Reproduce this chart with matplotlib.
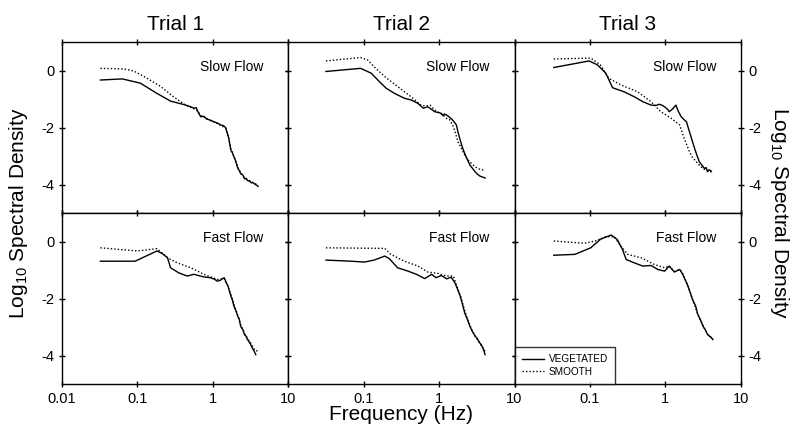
import matplotlib
matplotlib.use("Agg")
import matplotlib.pyplot as plt
import numpy as np

plt.rcParams['font.family'] = ['Liberation Sans', 'DejaVu Sans']
plt.rcParams['mathtext.default'] = 'regular'

trials = ["Trial 1", "Trial 2", "Trial 3"]
flows = ["Slow Flow", "Fast Flow"]
series_names = ["VEGETATED", "SMOOTH"]
xticks = [0.01, 0.1, 1, 10]
xtick_labels = ["0.01", "0.1", "1", "10"]
yticks = [0, -2, -4]
ytick_labels = ["0", "-2", "-4"]

# ---- Slow flow, Trial 1 ----
s1_veg_logf = [-1.49, -1.20, -0.96, -0.74, -0.56, -0.40, -0.36, -0.30, -0.25, -0.22, -0.19, -0.16, -0.12, -0.08, -0.03, 0.02, 0.06, 0.11, 0.14, 0.17, 0.19, 0.21, 0.24, 0.26, 0.28, 0.30, 0.33, 0.35, 0.37, 0.40, 0.42, 0.44, 0.46, 0.49, 0.51, 0.53, 0.56, 0.58, 0.60]
s1_veg_y = [-0.33, -0.29, -0.44, -0.80, -1.07, -1.18, -1.21, -1.26, -1.32, -1.30, -1.48, -1.62, -1.60, -1.70, -1.74, -1.80, -1.84, -1.91, -1.93, -2.00, -2.18, -2.35, -2.80, -2.88, -3.03, -3.15, -3.42, -3.50, -3.62, -3.67, -3.80, -3.78, -3.86, -3.88, -3.94, -3.92, -3.99, -4.02, -4.06]
s1_smo_logf = [-1.49, -1.18, -1.05, -0.87, -0.69, -0.52, -0.36, -0.30, -0.25, -0.20, -0.16, -0.10, -0.03, 0.05, 0.11, 0.17, 0.20, 0.24, 0.28, 0.33, 0.37, 0.42, 0.47, 0.52, 0.57, 0.60]
s1_smo_y = [0.08, 0.06, -0.01, -0.27, -0.56, -0.92, -1.21, -1.28, -1.34, -1.42, -1.58, -1.66, -1.76, -1.84, -1.93, -2.02, -2.25, -2.75, -3.00, -3.38, -3.58, -3.76, -3.84, -3.92, -3.98, -4.04]

# ---- Slow flow, Trial 2 ----
s2_veg_logf = [-1.50, -1.04, -0.90, -0.79, -0.70, -0.59, -0.46, -0.37, -0.28, -0.21, -0.15, -0.10, -0.06, -0.01, 0.03, 0.05, 0.07, 0.10, 0.13, 0.16, 0.20, 0.23, 0.25, 0.28, 0.31, 0.34, 0.38, 0.41, 0.44, 0.48, 0.51, 0.54, 0.58, 0.61]
s2_veg_y = [-0.03, 0.08, -0.09, -0.39, -0.62, -0.80, -0.97, -1.03, -1.15, -1.32, -1.27, -1.36, -1.44, -1.47, -1.50, -1.58, -1.52, -1.56, -1.62, -1.68, -1.80, -1.91, -2.15, -2.44, -2.70, -2.91, -3.15, -3.32, -3.42, -3.56, -3.64, -3.70, -3.74, -3.77]
s2_smo_logf = [-1.50, -1.04, -0.95, -0.84, -0.72, -0.55, -0.37, -0.24, -0.18, -0.12, -0.06, 0.00, 0.05, 0.10, 0.14, 0.19, 0.22, 0.25, 0.30, 0.34, 0.38, 0.43, 0.48, 0.52, 0.56, 0.61]
s2_smo_y = [0.34, 0.46, 0.38, 0.08, -0.21, -0.56, -0.92, -1.21, -1.25, -1.21, -1.38, -1.48, -1.55, -1.68, -1.72, -1.97, -2.22, -2.50, -2.75, -2.97, -3.12, -3.26, -3.38, -3.44, -3.48, -3.50]

# ---- Slow flow, Trial 3 ----
s3_veg_logf = [-1.48, -1.01, -0.90, -0.79, -0.70, -0.55, -0.41, -0.30, -0.19, -0.12, -0.08, -0.04, -0.01, 0.03, 0.05, 0.09, 0.14, 0.17, 0.21, 0.24, 0.28, 0.32, 0.36, 0.39, 0.41, 0.45, 0.48, 0.52, 0.54, 0.56, 0.58, 0.61]
s3_veg_y = [0.11, 0.34, 0.20, -0.09, -0.60, -0.74, -0.92, -1.09, -1.21, -1.22, -1.18, -1.22, -1.27, -1.36, -1.44, -1.36, -1.21, -1.42, -1.62, -1.70, -1.80, -2.15, -2.50, -2.75, -2.91, -3.20, -3.30, -3.44, -3.40, -3.55, -3.48, -3.53]
s3_smo_logf = [-1.48, -0.99, -0.86, -0.75, -0.59, -0.37, -0.19, -0.06, 0.08, 0.19, 0.25, 0.32, 0.36, 0.41, 0.45, 0.50, 0.55, 0.61]
s3_smo_y = [0.41, 0.44, 0.20, -0.27, -0.50, -0.74, -1.09, -1.44, -1.68, -1.91, -2.38, -2.85, -3.05, -3.20, -3.32, -3.44, -3.50, -3.56]

# ---- Fast flow, Trial 1 ----
f1_veg_logf = [-1.49, -1.03, -0.74, -0.67, -0.60, -0.56, -0.45, -0.34, -0.25, -0.18, -0.12, -0.03, 0.02, 0.06, 0.10, 0.13, 0.15, 0.18, 0.20, 0.24, 0.26, 0.28, 0.31, 0.33, 0.35, 0.37, 0.40, 0.42, 0.44, 0.46, 0.49, 0.52, 0.55, 0.57]
f1_veg_y = [-0.69, -0.69, -0.33, -0.42, -0.57, -0.92, -1.10, -1.21, -1.15, -1.20, -1.24, -1.27, -1.32, -1.39, -1.36, -1.30, -1.27, -1.45, -1.55, -1.92, -2.05, -2.27, -2.45, -2.62, -2.72, -2.98, -3.10, -3.27, -3.32, -3.44, -3.55, -3.72, -3.86, -3.97]
f1_smo_logf = [-1.49, -1.00, -0.74, -0.60, -0.47, -0.29, -0.12, 0.06, 0.15, 0.19, 0.24, 0.28, 0.33, 0.37, 0.42, 0.46, 0.50, 0.55, 0.58, 0.60]
f1_smo_y = [-0.22, -0.33, -0.25, -0.57, -0.75, -0.92, -1.15, -1.33, -1.30, -1.50, -1.85, -2.20, -2.58, -2.92, -3.22, -3.40, -3.55, -3.78, -3.84, -3.80]

# ---- Fast flow, Trial 2 ----
f2_veg_logf = [-1.50, -1.17, -0.99, -0.86, -0.72, -0.66, -0.55, -0.41, -0.30, -0.19, -0.10, -0.04, 0.03, 0.10, 0.16, 0.21, 0.25, 0.28, 0.31, 0.34, 0.37, 0.41, 0.44, 0.48, 0.50, 0.54, 0.56, 0.59, 0.61]
f2_veg_y = [-0.65, -0.69, -0.72, -0.65, -0.51, -0.60, -0.92, -1.04, -1.15, -1.30, -1.15, -1.27, -1.19, -1.31, -1.25, -1.45, -1.70, -1.92, -2.20, -2.51, -2.70, -2.98, -3.15, -3.33, -3.38, -3.56, -3.62, -3.80, -3.97]
f2_smo_logf = [-1.50, -0.72, -0.64, -0.46, -0.28, -0.15, -0.01, 0.05, 0.12, 0.19, 0.22, 0.26, 0.29, 0.32, 0.35, 0.39, 0.43, 0.47, 0.51, 0.55, 0.58, 0.61]
f2_smo_y = [-0.22, -0.24, -0.45, -0.69, -0.86, -1.07, -1.12, -1.18, -1.21, -1.21, -1.45, -1.75, -1.95, -2.25, -2.50, -2.82, -3.08, -3.28, -3.45, -3.62, -3.72, -3.86]

# ---- Fast flow, Trial 3 ----
f3_veg_logf = [-1.48, -1.20, -0.99, -0.86, -0.72, -0.64, -0.57, -0.52, -0.41, -0.30, -0.19, -0.10, -0.01, 0.05, 0.12, 0.19, 0.23, 0.30, 0.33, 0.36, 0.40, 0.43, 0.47, 0.50, 0.53, 0.56, 0.60, 0.63]
f3_veg_y = [-0.48, -0.45, -0.22, 0.08, 0.23, 0.08, -0.27, -0.63, -0.75, -0.86, -0.84, -0.98, -1.04, -0.86, -1.07, -0.98, -1.15, -1.57, -1.80, -2.04, -2.25, -2.56, -2.78, -2.98, -3.10, -3.27, -3.35, -3.44]
f3_smo_logf = [-1.48, -1.07, -0.93, -0.79, -0.68, -0.59, -0.50, -0.32, -0.15, -0.01, 0.05, 0.12, 0.19, 0.23, 0.30, 0.36, 0.43, 0.50, 0.56, 0.63]
f3_smo_y = [0.02, -0.06, 0.02, 0.17, 0.17, -0.16, -0.45, -0.57, -0.80, -0.92, -0.86, -1.05, -0.98, -1.13, -1.55, -2.02, -2.55, -2.96, -3.25, -3.42]

panels = [
    [(s1_veg_logf, s1_veg_y, s1_smo_logf, s1_smo_y),
     (s2_veg_logf, s2_veg_y, s2_smo_logf, s2_smo_y),
     (s3_veg_logf, s3_veg_y, s3_smo_logf, s3_smo_y)],
    [(f1_veg_logf, f1_veg_y, f1_smo_logf, f1_smo_y),
     (f2_veg_logf, f2_veg_y, f2_smo_logf, f2_smo_y),
     (f3_veg_logf, f3_veg_y, f3_smo_logf, f3_smo_y)],
]

fig, axes = plt.subplots(2, 3, figsize=(7.94, 4.30), dpi=100)
fig.subplots_adjust(left=0.078, right=0.933, top=0.902, bottom=0.107, wspace=0, hspace=0)

for r in range(2):
    for c in range(3):
        ax = axes[r, c]
        vl, vy, sl, sy = panels[r][c]
        lv, = ax.plot(10 ** np.array(vl), vy, color='black', lw=1.0, ls='-')
        ls_, = ax.plot(10 ** np.array(sl), sy, color='black', lw=1.0, ls=(0, (1, 1.5)))
        ax.set_xscale('log')
        ax.set_xlim(0.01, 10)
        ax.set_ylim(-5, 1)
        ax.minorticks_off()
        ax.set_xticks(xticks)
        ax.set_yticks(yticks)
        for sp in ax.spines.values():
            sp.set_linewidth(1.0)
        ax.tick_params(direction='inout', length=5, width=1, labelsize=10.5,
                       top=True, right=True, left=True, bottom=True, pad=3)
        if r == 1:
            if c == 0:
                ax.set_xticklabels(xtick_labels)
            else:
                ax.set_xticklabels([""] + xtick_labels[1:])
        else:
            ax.set_xticklabels([])
        if c == 0:
            ax.set_yticklabels(ytick_labels)
        elif c == 2:
            ax.set_yticklabels(ytick_labels)
            ax.yaxis.tick_right()
            ax.tick_params(axis='y', left=True, right=True, direction='inout', length=5)
        else:
            ax.set_yticklabels([])
        ax.text(0.89, 0.855, flows[r], transform=ax.transAxes, ha='right', va='center', fontsize=10)
        if r == 0:
            ax.set_title(trials[c], fontsize=15, pad=9)
        if r == 1 and c == 2:
            leg = ax.legend([lv, ls_], series_names, loc='lower left', fontsize=7.2,
                            frameon=True, fancybox=False, borderaxespad=0,
                            handlelength=2.2, handletextpad=0.5, borderpad=0.7,
                            labelspacing=0.25)
            leg.get_frame().set_edgecolor('black')
            leg.get_frame().set_linewidth(1.0)

fig.text(0.023, 0.505, r'Log$_{10}$ Spectral Density', rotation=90, ha='center', va='center', fontsize=15)
fig.text(0.982, 0.505, r'Log$_{10}$ Spectral Density', rotation=270, ha='center', va='center', fontsize=15)
fig.text(0.505, 0.035, 'Frequency (Hz)', ha='center', va='center', fontsize=15)

fig.savefig('out.png', dpi=100)
